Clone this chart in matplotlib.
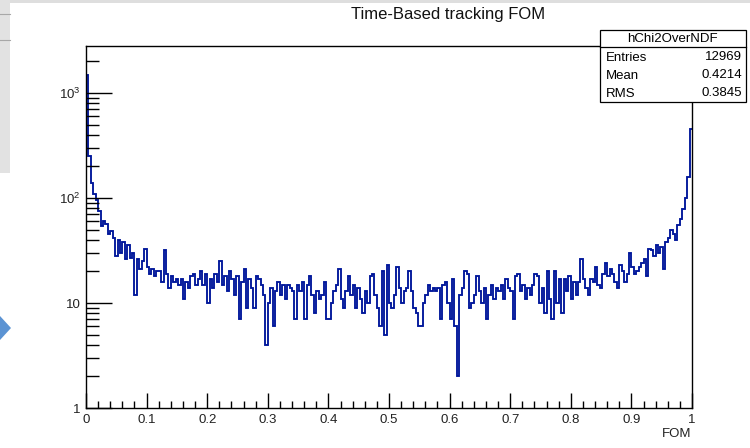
import matplotlib.pyplot as plt
import numpy as np
from matplotlib.patches import Rectangle, Polygon
from matplotlib.ticker import FixedLocator, NullFormatter

plt.rcParams['font.family'] = ['Liberation Sans', 'DejaVu Sans']
plt.rcParams['mathtext.fontset'] = 'custom'
plt.rcParams['mathtext.rm'] = 'Liberation Sans'

# histogram contents, 250 bins over [0, 1]
counts_00_10 = [1500, 250, 140, 110, 95, 75, 54, 60, 56, 45, 48, 42, 28, 40, 30,
                38, 26, 36, 27, 30, 12, 26, 21, 25, 33]
counts_10_20 = [22, 19, 21, 18, 20, 20, 16, 32, 19, 14, 18, 16, 17, 15, 17,
                11, 16, 14, 18, 19, 15, 17, 20, 15, 19]
counts_20_30 = [10, 17, 14, 19, 16, 25, 15, 18, 13, 20, 17, 12, 18, 7, 16,
                21, 9, 17, 14, 9, 18, 17, 15, 12, 4]
counts_30_40 = [10, 14, 6, 13, 16, 12, 15, 11, 15, 14, 13, 7, 15, 13, 16,
                7, 15, 18, 12, 8, 13, 11, 12, 16, 7]
counts_40_50 = [7, 10, 13, 15, 21, 11, 9, 13, 18, 12, 15, 9, 14, 11, 8,
                13, 10, 18, 19, 12, 9, 6, 20, 5, 23]
counts_50_60 = [10, 9, 12, 22, 14, 10, 13, 14, 20, 13, 9, 8, 6, 6, 10,
                12, 15, 13, 14, 13, 14, 7, 15, 16, 10]
counts_60_70 = [7, 17, 6, 2, 12, 14, 20, 19, 9, 10, 12, 18, 13, 10, 14,
                7, 12, 15, 11, 14, 13, 15, 11, 17, 14]
counts_70_80 = [13, 7, 18, 19, 13, 15, 11, 14, 12, 15, 19, 18, 10, 14, 8,
                20, 11, 7, 20, 10, 17, 8, 17, 13, 18]
counts_80_90 = [11, 16, 12, 16, 26, 17, 14, 12, 17, 16, 22, 15, 14, 19, 24,
                18, 21, 19, 16, 14, 23, 20, 16, 19, 30]
counts_90_100 = [22, 19, 20, 22, 24, 26, 18, 33, 32, 28, 36, 30, 34, 21, 38,
                 42, 50, 45, 40, 55, 63, 78, 100, 160, 450]

counts = np.array(counts_00_10 + counts_10_20 + counts_20_30 + counts_30_40
                  + counts_40_50 + counts_50_60 + counts_60_70 + counts_70_80
                  + counts_80_90 + counts_90_100, dtype=float)
edges = np.linspace(0, 1, len(counts) + 1)

title = "Time-Based tracking FOM"
stats_name = "hChi2OverNDF"
stats_rows = [("Entries", "12969"), ("Mean", "0.4214"), ("RMS", "0.3845")]

W, H = 750, 448


def fx(x):
    return x / W


def fy(y):
    return 1 - y / H


fig = plt.figure(figsize=(W / 100, H / 100), dpi=100)

# screenshot leftovers around the canvas
fig.add_artist(Rectangle((0, fy(3)), 1, 3 / H, transform=fig.transFigure,
                         color='#dedede', lw=0))
fig.add_artist(Rectangle((0, fy(173)), fx(10), 173 / H, transform=fig.transFigure,
                         color='#e2e2e2', lw=0))
for yy in (14, 40):
    fig.add_artist(plt.Line2D([0, fx(10)], [fy(yy), fy(yy)], transform=fig.transFigure,
                              color='#a8a8a8', lw=0.8))
fig.add_artist(Polygon([(0, fy(316)), (fx(11), fy(328)), (0, fy(340))],
                       transform=fig.transFigure, color='#5b93d3', lw=0))

ax = fig.add_axes([fx(86), fy(408), fx(606), 362 / H])
ax.stairs(counts, edges, color='#00169a', lw=1.35, baseline=None)

ax.set_yscale('log')
ax.set_xlim(0, 1)
ax.set_ylim(1, 10 ** (362 / 105))

ax.yaxis.set_major_locator(FixedLocator([1, 10, 100, 1000]))
ax.set_yticklabels(['1', '10', '$10^{2}$', '$10^{3}$'])
minors = [m * 10 ** d for d in range(0, 4) for m in range(2, 10)]
ax.yaxis.set_minor_locator(FixedLocator(minors))
ax.yaxis.set_minor_formatter(NullFormatter())

ax.set_xticks(np.round(np.arange(0, 1.01, 0.1), 1))
ax.set_xticklabels(['0', '0.1', '0.2', '0.3', '0.4', '0.5', '0.6', '0.7', '0.8', '0.9', '1'])
ax.set_xticks(np.arange(0, 1.001, 0.02), minor=True)

ax.tick_params(axis='y', which='major', direction='in', length=19, width=1.0,
               labelsize=9.5, pad=4, labelcolor='#222222')
ax.tick_params(axis='y', which='minor', direction='in', length=9, width=1.0)
ax.tick_params(axis='x', which='major', direction='in', length=11, width=1.0,
               labelsize=9.5, pad=4, labelcolor='#222222')
ax.tick_params(axis='x', which='minor', direction='in', length=5, width=1.0)
for s in ax.spines.values():
    s.set_linewidth(1.0)

fig.text(fx(691), fy(434), "FOM", ha='right', va='center', fontsize=9.5, color='#222222')
fig.text(fx(448), fy(15), title, ha='center', va='center', fontsize=12, color='#111111')

# stats box
box = Rectangle((fx(600), fy(102)), fx(146), 72 / H, transform=fig.transFigure,
                facecolor='white', edgecolor='black', lw=0.9, zorder=5)
fig.add_artist(box)
fig.add_artist(plt.Line2D([fx(600), fx(746)], [fy(47), fy(47)], transform=fig.transFigure,
                          color='black', lw=0.9, zorder=6))
fig.text(fx(672), fy(39), stats_name, ha='center', va='center', fontsize=9.5, zorder=7)
row_y = [58, 76, 94]
for (lab, val), yy in zip(stats_rows, row_y):
    fig.text(fx(606), fy(yy), lab, ha='left', va='center', fontsize=9.5, zorder=7)
    fig.text(fx(742), fy(yy - 1), val, ha='right', va='center', fontsize=9.5, zorder=7)

fig.savefig('out.png', dpi=100)
